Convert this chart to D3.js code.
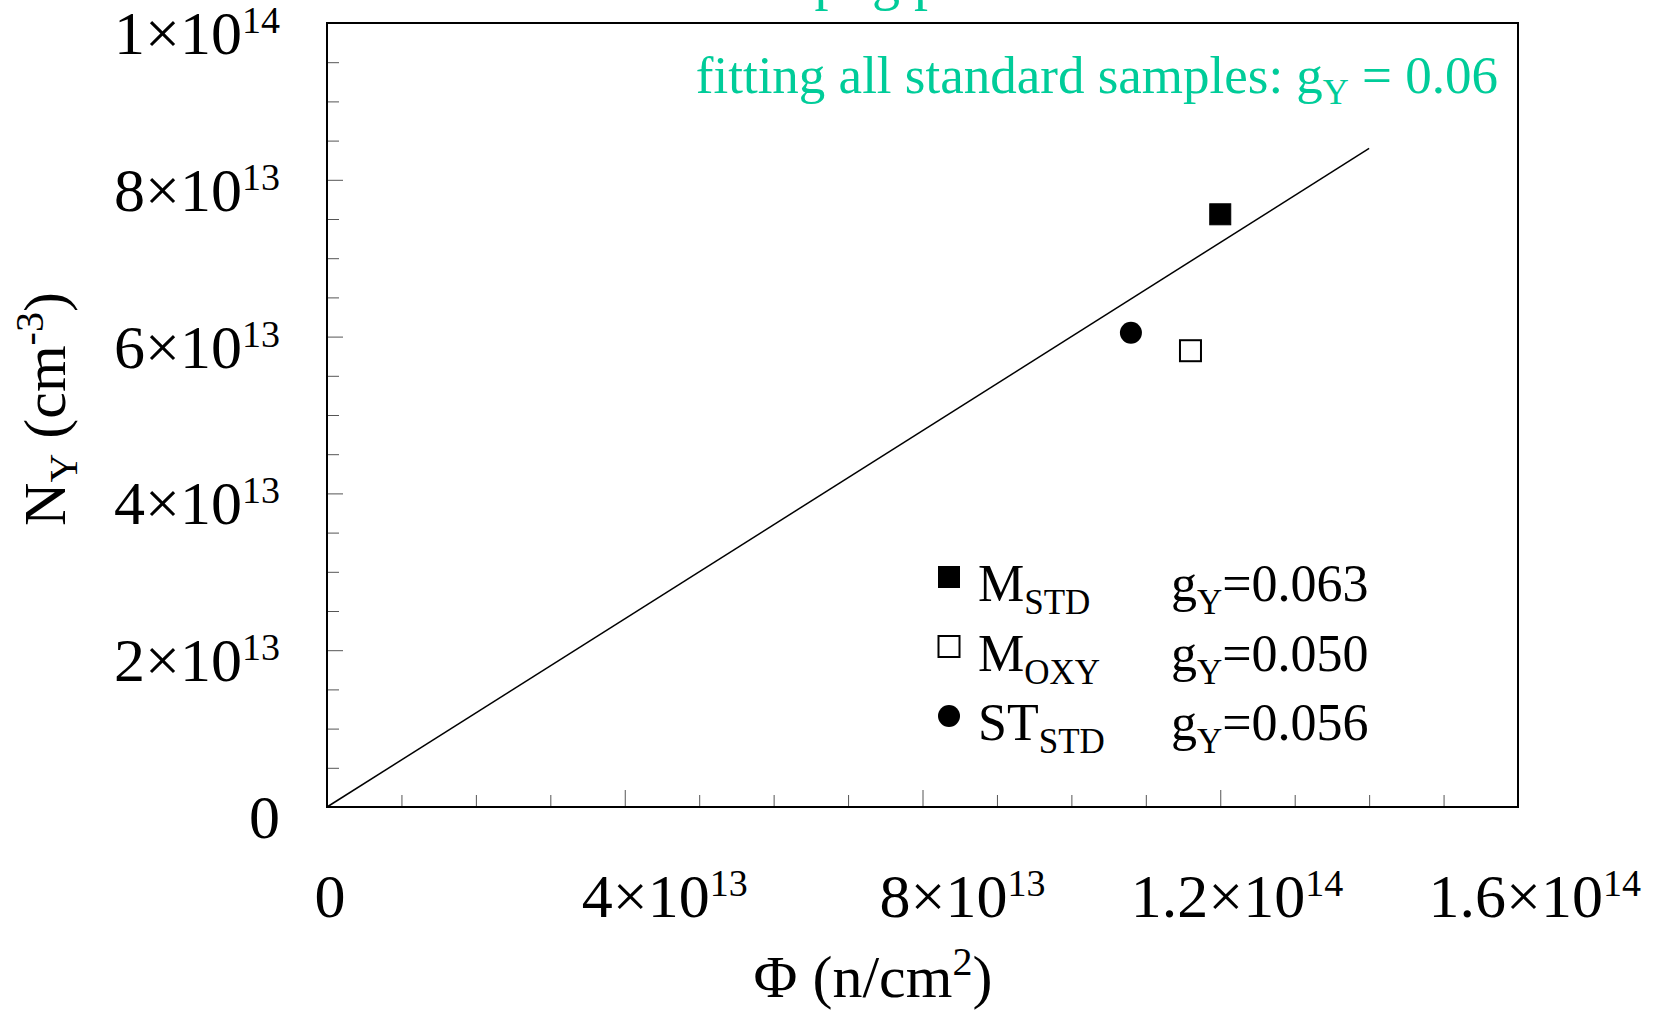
<!DOCTYPE html>
<html>
<head>
<meta charset="utf-8">
<script src="https://cdn.jsdelivr.net/npm/d3@7"></script>
<style>
  body { margin: 0; background: #fff; }
  text { font-family: "Liberation Serif", "Times New Roman", serif; }
</style>
</head>
<body>
<div id="chart"></div>
<script>
// data
var sampleNames = ["M", "M", "ST"];
var sampleSubs = ["STD", "OXY", "STD"];
var sampleShapes = ["filledSquare", "openSquare", "circle"];
var fluence = [1.2e14, 1.16e14, 1.08e14];      // Φ (n/cm2)
var density = [7.56e13, 5.82e13, 6.05e13];     // N_Y (cm-3)
var gValues = ["0.063", "0.050", "0.056"];

// global fit through all standard samples (line end points)
var fitG = "0.06";
var fitPhi = [0, 1.4e14];
var fitN = [0, 8.4e13];

// tick labels
var xTicks = [0, 4e13, 8e13, 1.2e14, 1.6e14];
var xTickMant = ["0", "4", "8", "1.2", "1.6"];
var xTickExp = ["", "13", "13", "14", "14"];
var yTicks = [0, 2e13, 4e13, 6e13, 8e13, 1e14];
var yTickMant = ["0", "2", "4", "6", "8", "1"];
var yTickExp = ["", "13", "13", "13", "13", "14"];

var green = "#00cc99";

// set the dimensions and margins of the graph
var margin = {top: 23, right: 136, bottom: 203, left: 327},
    width = 1654 - margin.left - margin.right,
    height = 1010 - margin.top - margin.bottom;

var root = d3.select("#chart")
  .append("svg")
    .attr("width", 1654)
    .attr("height", 1010);

var svg = root.append("g")
    .attr("transform", "translate(" + margin.left + "," + margin.top + ")");

var x = d3.scaleLinear().domain([0, 1.6e14]).range([0, width]);
var y = d3.scaleLinear().domain([0, 1e14]).range([height, 0]);

// inward ticks: x minor every 1e13, major every 4e13
var xAll = d3.range(17).map(function(i) { return i * 1e13; });
var gx = svg.append("g")
    .attr("transform", "translate(0," + height + ")")
    .call(d3.axisBottom(x).tickValues(xAll).tickSize(-12).tickFormat(""));
gx.select(".domain").remove();
gx.selectAll(".tick line")
    .attr("stroke", "#555")
    .attr("y2", function(d, i) { return i % 4 === 0 ? -17 : -12; });

// y minor every 0.5e13, major every 2e13
var yAll = d3.range(21).map(function(i) { return i * 0.5e13; });
var gy = svg.append("g")
    .call(d3.axisLeft(y).tickValues(yAll).tickSize(-12).tickFormat(""));
gy.select(".domain").remove();
gy.selectAll(".tick line")
    .attr("stroke", "#555")
    .attr("x2", function(d, i) { return i % 4 === 0 ? 16 : 12; });

// frame
svg.append("rect")
    .attr("width", width)
    .attr("height", height)
    .attr("fill", "none")
    .attr("stroke", "#000")
    .attr("stroke-width", 2);

// tick labels with superscript exponents
function addPow(sel, mant, exp) {
  sel.append("tspan").text(mant === "0" ? "0" : mant + "\u00d710");
  if (exp) sel.append("tspan").attr("font-size", 38).attr("dy", -21).text(exp);
}

xTicks.forEach(function(v, i) {
  var t = svg.append("text")
      .attr("x", x(v) + (v === 0 ? 3 : 123))
      .attr("y", height + 110)
      .attr("text-anchor", v === 0 ? "middle" : "end")
      .attr("font-size", 62);
  addPow(t, xTickMant[i], xTickExp[i]);
});

yTicks.forEach(function(v, i) {
  var t = svg.append("text")
      .attr("x", -47)
      .attr("y", y(v) + 31)
      .attr("text-anchor", "end")
      .attr("font-size", 62);
  addPow(t, yTickMant[i], yTickExp[i]);
});

// axis titles
var xt = root.append("text")
    .attr("x", 873)
    .attr("y", 997)
    .attr("text-anchor", "middle")
    .attr("font-size", 60);
xt.append("tspan").text("\u03a6 (n/cm");
xt.append("tspan").attr("font-size", 40).attr("dy", -22).text("2");
xt.append("tspan").attr("dy", 22).text(")");

var yt = root.append("text")
    .attr("transform", "translate(65,409) rotate(-90)")
    .attr("text-anchor", "middle")
    .attr("font-size", 60);
yt.append("tspan").text("N");
yt.append("tspan").attr("font-size", 40).attr("dy", 12).text("Y");
yt.append("tspan").attr("dy", -12).text(" (cm");
yt.append("tspan").attr("font-size", 40).attr("dy", -22).text("-3");
yt.append("tspan").attr("dy", 22).text(")");

// fit line
svg.append("path")
    .datum(fitPhi.map(function(f, i) { return [f, fitN[i]]; }))
    .attr("fill", "none")
    .attr("stroke", "#000")
    .attr("stroke-width", 1.5)
    .attr("d", d3.line()
      .x(function(d) { return x(d[0]); })
      .y(function(d) { return y(d[1]); }));

// markers
function drawMarker(g, shape, cx, cy) {
  if (shape === "circle") {
    g.append("circle").attr("cx", cx).attr("cy", cy).attr("r", 11).attr("fill", "#000");
  } else {
    g.append("rect")
      .attr("x", cx - 10.5).attr("y", cy - 10.5)
      .attr("width", 21).attr("height", 21)
      .attr("fill", shape === "filledSquare" ? "#000" : "#fff")
      .attr("stroke", "#000")
      .attr("stroke-width", shape === "filledSquare" ? 1 : 2);
  }
}

fluence.forEach(function(f, i) {
  drawMarker(svg, sampleShapes[i], x(f), y(density[i]));
});

// legend
var legend = root.append("g").attr("transform", "translate(949,577)");
sampleNames.forEach(function(name, i) {
  var row = legend.append("g").attr("transform", "translate(0," + (i * 69.5) + ")");
  drawMarker(row, sampleShapes[i], 0, 0);
  var t = row.append("text").attr("x", 29).attr("y", 24).attr("font-size", 52);
  t.append("tspan").text(name);
  t.append("tspan").attr("font-size", 35).attr("dy", 13).text(sampleSubs[i]);
  var g = row.append("text").attr("x", 222).attr("y", 24).attr("font-size", 52);
  g.append("tspan").text("g");
  g.append("tspan").attr("font-size", 35).attr("dy", 13).text("Y");
  g.append("tspan").attr("dy", -13).text("=" + gValues[i]);
});

// annotations (the upper line is cropped off at the top in the original)
root.append("text")
    .attr("x", 715)
    .attr("y", -1)
    .attr("font-size", 56)
    .attr("fill", green)
    .text("Setup: g per");

var ann = root.append("text")
    .attr("x", 1498)
    .attr("y", 93)
    .attr("text-anchor", "end")
    .attr("font-size", 53)
    .attr("fill", green);
ann.append("tspan").text("fitting all standard samples: g");
ann.append("tspan").attr("font-size", 36).attr("dy", 11).text("Y");
ann.append("tspan").attr("dy", -11).text(" = " + fitG);
</script>
</body>
</html>
